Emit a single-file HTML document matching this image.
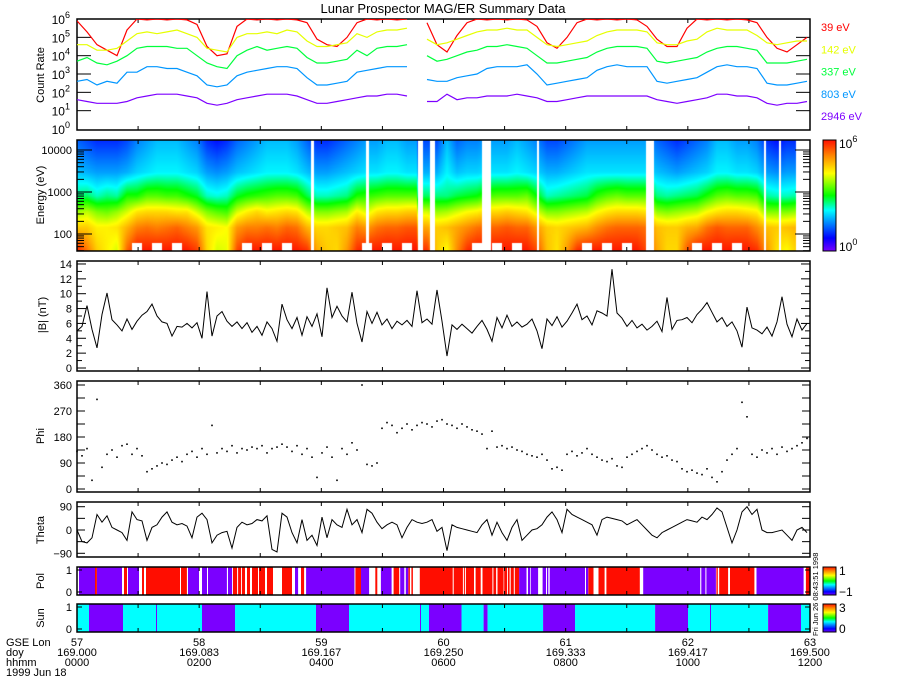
<!DOCTYPE html>
<html><head><meta charset="utf-8"><title>Lunar Prospector MAG/ER Summary Data</title>
<style>
html,body{margin:0;padding:0;background:#fff;}
#wrap{position:relative;width:900px;height:700px;overflow:hidden;background:#fff;}
#spec{position:absolute;left:77px;top:140px;}
svg{position:absolute;left:0;top:0;}
text{font-family:"Liberation Sans",sans-serif;}
</style></head>
<body>
<div id="wrap">
<canvas id="spec" width="733" height="111"></canvas>
<svg id="chart" width="900" height="700" viewBox="0 0 900 700"></svg>
</div>
<script>
// ---------- DATA ----------
const countStepMin = 9.823;          // minutes between count-rate samples
const energiesEv = [39, 142, 337, 803, 2946];
const energyLabels = ["39 eV", "142 eV", "337 eV", "803 eV", "2946 eV"];
const rate39Log = [5.9,5.3,4.6,4.3,4.0,5.4,6.0,5.95,6.0,5.95,6.0,5.95,5.7,4.5,4.0,4.1,5.6,6.0,5.95,6.0,5.95,6.0,5.95,5.8,4.9,4.6,4.5,5.0,5.8,6.0,5.95,6.0,5.95,6.0,null,5.8,4.6,4.2,5.1,5.8,6.0,5.95,6.0,5.95,6.0,5.95,5.6,4.7,4.4,5.0,5.8,6.0,5.95,6.0,5.95,6.0,5.95,5.6,4.9,4.5,4.5,5.5,6.0,5.95,6.0,5.95,6.0,5.95,5.8,5.0,4.4,4.2,4.6,5.0];
const rate142Log = [4.6,4.6,4.3,4.3,4.4,4.8,5.2,5.3,5.2,5.3,5.4,5.2,5.0,4.4,4.3,4.2,5.0,5.2,5.2,5.3,5.2,5.4,5.3,4.8,4.5,4.5,4.6,4.7,5.2,5.0,5.3,5.4,5.4,5.5,null,4.9,4.6,4.7,4.9,5.1,5.3,5.4,5.4,5.5,5.4,5.4,5.0,4.6,4.5,4.6,4.7,4.8,5.1,5.3,5.4,5.4,5.4,5.3,4.7,4.6,4.6,4.8,4.9,5.3,5.5,5.4,5.4,5.4,5.1,4.7,4.6,4.7,4.8,4.8];
const rate337Log = [3.7,3.9,3.6,3.5,3.7,4.0,4.4,4.5,4.5,4.5,4.4,4.4,4.0,3.6,3.4,3.3,4.0,4.3,4.5,4.3,4.4,4.5,4.4,3.9,3.6,3.6,3.7,3.8,4.3,4.0,4.4,4.5,4.5,4.6,null,4.0,3.7,3.8,4.0,4.2,4.3,4.5,4.5,4.6,4.5,4.4,4.0,3.6,3.6,3.7,3.8,3.9,4.2,4.4,4.5,4.5,4.5,4.4,3.7,3.6,3.7,3.8,3.9,4.2,4.4,4.5,4.5,4.4,4.3,3.6,3.6,3.6,3.7,3.8];
const rate803Log = [2.6,2.7,2.4,2.6,2.5,3.1,3.1,3.4,3.4,3.3,3.3,3.1,2.9,2.4,2.3,2.4,2.9,3.1,3.2,3.3,3.4,3.4,3.3,2.8,2.4,2.4,2.5,2.6,3.1,3.2,3.3,3.4,3.4,3.4,null,2.7,2.6,2.6,2.8,2.9,3.0,3.3,3.4,3.4,3.4,3.5,3.0,2.4,2.5,2.6,2.7,2.8,3.2,3.4,3.5,3.4,3.4,3.4,2.6,2.5,2.6,2.7,2.8,3.1,3.4,3.5,3.4,3.4,3.3,2.5,2.4,2.4,2.5,2.6];
const rate2946Log = [1.6,1.5,1.4,1.4,1.4,1.5,1.7,1.8,1.9,1.9,1.9,1.8,1.7,1.4,1.3,1.4,1.6,1.7,1.8,1.9,1.9,1.9,1.8,1.6,1.4,1.4,1.5,1.6,1.7,1.8,1.8,1.9,1.9,1.8,null,1.5,1.5,1.9,1.6,1.7,1.7,1.8,1.8,1.8,1.9,1.8,1.7,1.5,1.5,1.6,1.7,1.8,1.8,1.8,1.8,1.8,1.8,1.8,1.6,1.5,1.4,1.5,1.6,1.7,1.9,1.9,1.8,1.8,1.7,1.4,1.3,1.4,1.4,1.5];
const specGapStartMin = [229.9,283.9,335.0,346.8,397.8,451.9,558.9,674.8,689.6,706.3];
const specGapEndMin   = [232.8,286.8,339.9,351.7,406.7,453.8,566.8,676.8,691.6,720.0];

const magStepMin = 4.911;            // minutes between magnetometer samples
const bMag = [5.0,5.6,8.4,5.2,2.7,7.2,10.1,6.5,5.8,5.0,6.6,5.2,6.3,7.1,7.6,8.6,7.0,6.2,6.0,4.3,5.6,5.5,6.0,5.4,6.1,4.0,10.3,4.3,7.0,7.6,6.3,5.6,6.2,5.3,6.1,4.8,5.6,4.4,6.2,5.3,3.6,8.6,6.5,5.3,6.8,4.4,6.9,5.6,7.3,4.2,10.8,6.8,8.3,7.0,6.2,10.2,6.0,3.5,7.6,6.0,7.5,5.8,6.6,5.3,6.3,5.8,6.4,5.6,10.4,6.1,6.6,5.9,10.5,6.3,1.6,5.8,5.2,5.9,5.3,4.7,5.6,6.4,5.2,3.6,6.8,5.4,7.1,5.6,6.2,5.5,5.9,6.6,5.0,2.6,6.6,5.7,6.9,5.5,6.3,7.4,8.6,6.5,7.0,5.8,7.7,7.4,7.0,13.3,7.4,6.7,5.6,6.4,5.4,5.9,5.1,5.6,6.3,4.9,9.5,5.2,6.4,6.5,6.8,6.1,7.2,7.9,8.8,7.5,6.2,6.8,5.6,6.2,5.0,2.8,8.2,5.4,5.1,4.6,5.5,4.3,6.2,9.6,5.9,4.2,6.6,5.1,6.0];
const phiDeg = [130,115,140,30,310,75,120,135,110,150,155,120,140,115,60,70,80,90,85,100,110,95,120,130,110,140,120,220,125,140,130,150,125,140,135,145,140,150,125,140,145,155,145,130,150,120,140,110,40,125,145,110,30,140,120,160,135,360,85,80,90,210,230,220,195,210,225,205,220,230,225,215,235,240,225,220,210,225,215,205,200,190,140,200,145,150,140,145,135,130,120,115,110,120,100,70,75,65,120,130,115,125,140,120,110,100,95,105,80,75,110,120,130,140,150,135,120,110,115,100,95,70,60,65,55,50,70,40,25,60,100,120,140,300,250,120,110,135,125,140,120,145,130,140,150,160,175];
const thetaDeg = [0,-45,-50,-30,60,30,55,10,0,-10,-40,70,40,35,-40,10,20,50,70,30,20,25,15,-30,50,65,40,-50,-20,-10,-5,-70,10,30,20,25,40,35,55,-75,-85,65,50,-10,-50,40,-40,-20,-60,50,-30,40,20,10,80,20,40,-10,80,65,30,5,20,30,20,-30,10,40,30,25,30,40,-5,10,-80,20,10,5,0,-5,-10,20,40,-20,30,-10,-40,10,40,-40,-20,0,5,20,50,70,40,-10,80,60,50,40,30,20,-20,40,50,45,40,35,20,30,40,20,0,-20,-30,-10,0,10,20,30,40,35,30,50,40,60,85,70,10,-50,0,70,90,60,80,0,-10,-10,-5,0,-20,-40,0,10,-10];

const polStartMin = [0,2,17.7,19.6,44.2,46.2,49.1,50.1,60.9,63.8,65.8,67.8,101.2,102.2,108,109,119.8,122.8,127.7,128.7,147.3,148.3,152.3,153.2,157.2,158.2,161.1,162.1,165,167,169.9,171.9,177.8,178.8,184.7,186.6,192.5,201.4,211.2,214.1,217.1,220,223,225,272.5,273.5,279,287,293,295,298.5,309,311,316.5,317.5,321.5,323,325.5,327,328.5,330,336.7,369,370,379,380,381,382,390,391.5,396.5,398.3,408,409,411.7,413,419,419.6,422.4,423.4,425,426,429,430,434.4,441.6,443,445,445.7,453,457.3,460.6,461.7,463,464.3,499,500,502.3,507.3,512.3,518.3,520,552.8,556.2,612.2,613.2,617.2,618.2,627.5,628.1,629.5,630.8,639.5,641.4,665.4,667.4,713.7,716];
const polValue    = [0,-1,1,-1,0,1,0,-1,0,1,0,1,0,1,0,-1,0,-1,0,-1,0,-1,0,1,0,1,0,1,0,1,0,1,0,1,0,1,0,1,0,-1,0,1,0,-1,0,1,-1,0,1,0,-1,0,1,0,-1,0,-1,1,0,1,0,1,0,1,0,1,0,1,0,1,0,1,0,1,0,1,0,1,0,1,0,1,0,1,-1,0,-1,0,-1,0,-1,0,-1,0,-1,0,-1,1,0,1,0,1,0,-1,0,-1,0,-1,0,1,0,1,0,1,0,-1,0,1];
const sunStartMin = [0,11.8,45.2,77.6,78.6,122.8,155.2,234.8,267.2,336.9,337.9,345.8,377.7,399.4,403.3,457.8,489.2,567.8,600.2,621.8,622.8,678.8,711.2];
const sunValue    = [1,0,1,0,1,0,1,0,1,0,1,0,1,0,1,0,1,0,1,0,1,0,1];

const lonLabels  = ["57","58","59","60","61","62","63"];
const doyLabels  = ["169.000","169.083","169.167","169.250","169.333","169.417","169.500"];
const hhmmLabels = ["0000","0200","0400","0600","0800","1000","1200"];

// ---------- LAYOUT ----------
const X0 = 77, X1 = 810, SPAN_MIN = 720;
const P = {
  rate:{t:19,b:130}, spec:{t:140,b:251}, b:{t:261,b:371},
  phi:{t:381,b:492}, theta:{t:502,b:557}, pol:{t:567,b:595}, sun:{t:604,b:632}
};
function xOf(min){ return X0 + min*(X1-X0)/SPAN_MIN; }
function rateY(l){ return 129 - l*18.33; }
function energyY(logE){ return 150 + (4-logE)*42; }
function bY(v){ return 368 - v*7.43; }
function phiY(v){ return 489 - v*104/360; }
function thetaY(v){ return 530 - v*23.3/90; }

const NS = 'http://www.w3.org/2000/svg';
const svg = document.getElementById('chart');
function mk(tag, attrs, parent){
  const e = document.createElementNS(NS, tag);
  for (const k in attrs) e.setAttribute(k, attrs[k]);
  (parent||svg).appendChild(e);
  return e;
}
function txt(x,y,s,size,anchor,fill,parent){
  const t = mk('text',{x:x,y:y,'font-size':size,'text-anchor':anchor||'start',fill:fill||'#000'},parent);
  t.textContent = s;
  return t;
}

// colour map (level 0..6)
const cmapLevels = [0,0.7,1.6,2.2,3.0,4.2,5.2,6.0];
const cmapColors = [[120,0,255],[0,0,255],[0,150,255],[0,255,255],[0,255,0],[255,255,0],[255,128,0],[255,16,0]];
function cmap(v){
  if (v<=0) return cmapColors[0];
  if (v>=6) return cmapColors[cmapColors.length-1];
  for (let i=0;i<cmapLevels.length-1;i++){
    if (v<=cmapLevels[i+1]){
      const f=(v-cmapLevels[i])/(cmapLevels[i+1]-cmapLevels[i]);
      const a=cmapColors[i], b=cmapColors[i+1];
      return [a[0]+(b[0]-a[0])*f, a[1]+(b[1]-a[1])*f, a[2]+(b[2]-a[2])*f];
    }
  }
  return cmapColors[cmapColors.length-1];
}

// defs
const defs = mk('defs',{});
const clip = mk('clipPath',{id:'rateClip'},defs);
mk('rect',{x:X0,y:P.rate.t,width:X1-X0,height:P.rate.b-P.rate.t},clip);
function gradient(id){
  const g = mk('linearGradient',{id:id,x1:0,y1:1,x2:0,y2:0},defs);
  for (let i=0;i<cmapLevels.length;i++){
    const c=cmapColors[i];
    mk('stop',{offset:(cmapLevels[i]/6),'stop-color':'rgb('+c.join(',')+')'},g);
  }
}
gradient('cbar');

// title
const title = txt(443,13,'Lunar Prospector MAG/ER Summary Data',13,'middle');



// ---------- generic axes ----------
function frame(name, p){
  const r = mk('rect',{x:X0,y:p.t,width:X1-X0,height:p.b-p.t,fill:'none',stroke:'#000','stroke-width':1.5});
  
  
  for (let h=1; h<12; h++){
    const x = xOf(h*60);
    const t1 = mk('line',{x1:x,x2:x,y1:p.t,y2:p.t+4,stroke:'#000','stroke-width':1});
    
    
    const t2 = mk('line',{x1:x,x2:x,y1:p.b,y2:p.b-4,stroke:'#000','stroke-width':1});
    
    
  }
}
function ytick(name,y,len){
  const a = mk('line',{x1:X0,x2:X0+len,y1:y,y2:y,stroke:'#000','stroke-width':1});
  
  
  const b = mk('line',{x1:X1,x2:X1-len,y1:y,y2:y,stroke:'#000','stroke-width':1});
  
  
}
function ylabel(name,s,x,y){
  const t = txt(x,y,s,11,'middle');
  t.setAttribute('transform','rotate(-90 '+x+' '+y+')');
  
  
}

// ---------- count rate panel ----------
frame('count-rate', P.rate);
for (let d=0; d<=6; d++){
  const y = rateY(d);
  if (d>0 && d<6) ytick('count-rate', y, 14);
  const t = mk('text',{x:70,y:y+5,'font-size':12,'text-anchor':'end',fill:'#000'});
  
  
  t.appendChild(document.createTextNode('10'));
  const s = mk('tspan',{dy:-6,'font-size':9},t); s.textContent = String(d);
}
ylabel('count-rate','Count Rate',44,75);
const rateSeries = [rate39Log, rate142Log, rate337Log, rate803Log, rate2946Log];
const rateColors = ['#ff0000','#e6ff00','#00ff3c','#0096ff','#7d00ff'];
const rateNames = ['series-39ev','series-142ev','series-337ev','series-803ev','series-2946ev'];
const rateG = mk('g',{'clip-path':'url(#rateClip)'});


function linePath(arr, stepMin, yfn){
  let d='', pen=false;
  for (let i=0;i<arr.length;i++){
    if (arr[i]===null){ pen=false; continue; }
    const x = xOf(i*stepMin), y = yfn(arr[i]);
    d += (pen?'L':'M') + x.toFixed(1) + ' ' + y.toFixed(1);
    pen = true;
  }
  return d;
}
for (let s=0;s<rateSeries.length;s++){
  const path = mk('path',{d:linePath(rateSeries[s],countStepMin,rateY),fill:'none',stroke:rateColors[s],'stroke-width':1.2},rateG);
  
  
  const lt = txt(821, 31 + s*22.3, energyLabels[s], 11, 'start', rateColors[s]);
  lt.setAttribute('style','fill:'+rateColors[s]);
  
  
}

// ---------- spectrogram ----------
(function(){
  const cv = document.getElementById('spec');
  const ctx = cv.getContext('2d');
  const W = cv.width, H = cv.height;
  const img = ctx.createImageData(W,H);
  const logE = energiesEv.map(e=>Math.log10(e));
  for (let px=0; px<W; px++){
    const m = (px+0.5)*SPAN_MIN/(X1-X0);
    let gap=false;
    for (let g=0; g<specGapStartMin.length; g++){ if (m>=specGapStartMin[g] && m<specGapEndMin[g]) gap=true; }
    let f = m/countStepMin, i = Math.floor(f); f -= i;
    if (i >= rate39Log.length-1){ i = rate39Log.length-2; f = 1; }
    const ch = rateSeries.map(a=>{
      let a0=a[i], a1=a[i+1];
      if (a0===null) a0=a1; if (a1===null) a1=a0;
      if (a0===null) a0=a1=a[i-1];
      return a0+(a1-a0)*f;
    });
    const near = rate39Log[f<0.5?i:i+1];
    const nodesX = logE.concat([4.3]);
    const nodesV = ch.slice(0,4).concat([ch[4]+0.25, ch[4]+(ch[4]-1.6)*0.8-0.35]);
    for (let py=0; py<H; py++){
      const idx = (py*W+px)*4;
      if (gap){ img.data[idx]=255;img.data[idx+1]=255;img.data[idx+2]=255;img.data[idx+3]=255; continue; }
      const le = 4 - (140+py+0.5-150)/42;
      let lev;
      if (le<=nodesX[0]) lev = nodesV[0];
      else {
        lev = nodesV[nodesV.length-1];
        for (let k=0;k<nodesX.length-1;k++){
          if (le<=nodesX[k+1]){ const t=(le-nodesX[k])/(nodesX[k+1]-nodesX[k]); lev=nodesV[k]+(nodesV[k+1]-nodesV[k])*t; break; }
        }
      }
      let c;
      if (near!==null && near>=6.0 && le<1.78) c=[255,255,255];
      else c = cmap(lev);
      img.data[idx]=c[0]; img.data[idx+1]=c[1]; img.data[idx+2]=c[2]; img.data[idx+3]=255;
    }
  }
  ctx.putImageData(img,0,0);
})();
frame('spectrogram', P.spec);
[1,2,3,4].forEach(dec=>{
  for (let k=1;k<10;k++){
    const yy = energyY(dec + Math.log10(k));
    if (yy < P.spec.t || yy > P.spec.b) continue;
    ytick('energy', yy, k===1?15:7);
  }
});
[[4,'10000'],[3,'1000'],[2,'100']].forEach(p=>{
  const t = txt(72, energyY(p[0])+4, p[1], 11, 'end');
  
  
});
ylabel('energy','Energy (eV)',44,195);
const cb1 = mk('rect',{x:823,y:140,width:13,height:111,fill:'url(#cbar)',stroke:'#000','stroke-width':1});


[[6,148],[0,251]].forEach(p=>{
  const t = mk('text',{x:839,y:p[1],'font-size':12,fill:'#000'});
  
  
  t.appendChild(document.createTextNode('10'));
  const s = mk('tspan',{dy:-6,'font-size':9},t); s.textContent=String(p[0]);
});

// ---------- |B| panel ----------
frame('b-magnitude', P.b);
for (let v=0; v<=14; v++){
  ytick('b-magnitude', bY(v), v%2===0?9:5);
  if (v%2===0){
    const t = txt(72, bY(v)+4, String(v), 11, 'end');
    
    
  }
}
ylabel('b-magnitude','|B| (nT)',46,315);
const bPath = mk('path',{d:linePath(bMag,magStepMin,bY),fill:'none',stroke:'#000','stroke-width':1});



// ---------- Phi panel ----------
frame('phi', P.phi);
for (let v=0; v<=360; v+=45){
  ytick('phi', phiY(v), 8);
  if (v%90===0){
    const t = txt(72, phiY(v)+4, String(v), 11, 'end');
    
    
  }
}
ylabel('phi','Phi',44,436);
const phiG = mk('g',{});


for (let i=0;i<phiDeg.length;i++){
  const r = mk('rect',{x:(xOf(i*magStepMin)-0.8).toFixed(1),y:(phiY(phiDeg[i])-0.8).toFixed(1),width:1.6,height:1.6,fill:'#000'},phiG);
  
  
}

// ---------- Theta panel ----------
frame('theta', P.theta);
for (let v=-90; v<=90; v+=45){
  ytick('theta', thetaY(v), 8);
  if (v%90===0){
    const t = txt(72, thetaY(v)+4, v<0?'\u221290':String(v), 11, 'end');
    
    
  }
}
ylabel('theta','Theta',44,530);
const thPath = mk('path',{d:linePath(thetaDeg,magStepMin,thetaY),fill:'none',stroke:'#000','stroke-width':1});



// ---------- Pol / Sun ----------
function stripes(name, p, starts, values, colorFor){
  const g = mk('g',{});
  
  
  for (let i=0;i<starts.length;i++){
    const c = colorFor(values[i]);
    if (!c) continue;
    const end = i+1<starts.length ? starts[i+1] : SPAN_MIN;
    const x0 = xOf(starts[i]), x1 = xOf(end);
    const r = mk('rect',{x:x0.toFixed(1),y:p.t,width:Math.max(0.8,x1-x0).toFixed(1),height:p.b-p.t,fill:c},g);
    
    
  }
  frame(name, p);
}
stripes('polarity', P.pol, polStartMin, polValue, v=> v===1?'#ff0d00':(v===-1?'#7b00ff':null));
stripes('sun', P.sun, sunStartMin, sunValue, v=> v===1?'#00ffff':'#7b00ff');
[[P.pol,'polarity','Pol',581],[P.sun,'sun','Sun',618]].forEach(a=>{
  const p=a[0];
  const t1 = txt(72, p.t+7, '1', 11, 'end');  
  const t0 = txt(72, p.b+1, '0', 11, 'end');  
  ytick(a[1], p.t+3, 5); ytick(a[1], p.b-3, 5);
  ylabel(a[1], a[2], 44, a[3]);
});
const cb2 = mk('rect',{x:823,y:567,width:13,height:28,fill:'url(#cbar)',stroke:'#000','stroke-width':1});


const cb3 = mk('rect',{x:823,y:604,width:13,height:28,fill:'url(#cbar)',stroke:'#000','stroke-width':1});


[[839,575,'1'],[839,596,'\u22121'],[839,612,'3'],[839,633,'0']].forEach(a=>{
  const t = txt(a[0],a[1],a[2],12,'start');
  
  
});
const stamp = txt(0,0,'Fri Jun 26 08:43:51 1998',7.5,'start');
stamp.setAttribute('transform','translate(818 636) rotate(-90)');



// ---------- bottom x labels ----------
const rowTitles = ['GSE Lon','doy','hhmm'];
const rowY = [646, 656, 666];
rowTitles.forEach((s,i)=>{
  const t = txt(6, rowY[i], s, 11, 'start');
  
  
});
const dateT = txt(6, 676, '1999 Jun 18', 11, 'start');


[lonLabels, doyLabels, hhmmLabels].forEach((arr,r)=>{
  arr.forEach((s,i)=>{
    const t = txt(xOf(i*120), rowY[r], s, 11, 'middle');
    
    
  });
});
</script>
</body></html>
